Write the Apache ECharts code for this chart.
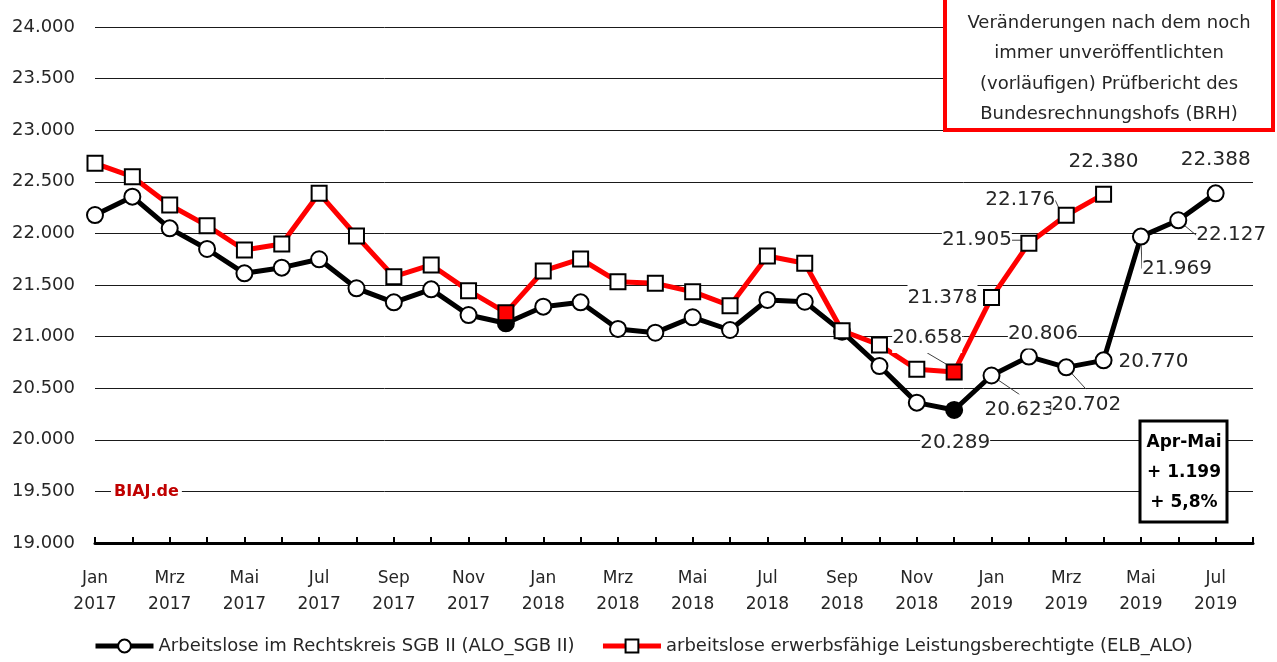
<!DOCTYPE html>
<html>
<head>
<meta charset="utf-8">
<script src="https://cdn.jsdelivr.net/npm/echarts@6/dist/echarts.min.js"></script>
<style>
  html, body { margin: 0; padding: 0; background: #fff; }
  #chart { width: 1277px; height: 662px; }
</style>
</head>
<body>
<div id="chart"></div>
<script>
// Monate Jan 2017 - Aug 2019 (Aug 2019 nur als Achsenende)
const categories = [
  'Jan 2017', 'Feb 2017', 'Mrz 2017', 'Apr 2017', 'Mai 2017', 'Jun 2017', 'Jul 2017', 'Aug 2017', 'Sep 2017', 'Okt 2017', 'Nov 2017', 'Dez 2017',
  'Jan 2018', 'Feb 2018', 'Mrz 2018', 'Apr 2018', 'Mai 2018', 'Jun 2018', 'Jul 2018', 'Aug 2018', 'Sep 2018', 'Okt 2018', 'Nov 2018', 'Dez 2018',
  'Jan 2019', 'Feb 2019', 'Mrz 2019', 'Apr 2019', 'Mai 2019', 'Jun 2019', 'Jul 2019', 'Aug 2019'
]

// Arbeitslose im Rechtskreis SGB II (ALO_SGB II)
const aloSgb2 = [
  22178, 22356, 22049, 21849, 21613, 21668, 21749, 21468, 21332, 21458, 21209, 21129,
  21290, 21332, 21074, 21038, 21187, 21064, 21355, 21338, 21048, 20715, 20360, 20289,
  20623, 20806, 20702, 20770, 21969, 22127, 22388
]

// arbeitslose erwerbsfaehige Leistungsberechtigte (ELB_ALO)
const elbAlo = [
  22679, 22550, 22275, 22075, 21839, 21897, 22388, 21975, 21581, 21694, 21445, 21232,
  21636, 21752, 21532, 21516, 21435, 21300, 21781, 21710, 21057, 20919, 20683, 20658,
  21378, 21905, 22176, 22380
]

const yTicks = [19000, 19500, 20000, 20500, 21000, 21500, 22000, 22500, 23000, 23500, 24000]

// Dezember-Werte gefuellt
const filledIdx = [11, 23]

// Beschriftung: dataIndex -> [dx, dy, Fuehrungslinie]
const aloLabels = {
  23: [1, 33, false],
  24: [28, 34, true],
  25: [14, -23, false],
  26: [20, 37, true],
  27: [50, 1, false],
  28: [36, 32, true],
  29: [53, 15, true],
  30: [0, -34, false]
}
const elbLabels = {
  23: [-27, -34, true],
  24: [-49, 0, false],
  25: [-52, -3, true],
  26: [-46, -15, true],
  27: [0, -32, false]
}

const fmt = (v) => {
  const t = Math.floor(v / 1000)
  const r = String(Math.round(v % 1000)).padStart(3, '0')
  return t + '.' + r
}

const buildData = (values, labels, fill) => {
  return values.map((v, i) => {
    const item = { value: v }
    if (labels[i]) {
      item.label = { show: true }
      item.labelLine = { show: labels[i][2] }
    }
    if (filledIdx.indexOf(i) >= 0) {
      item.itemStyle = { color: fill }
    }
    return item
  })
}

const labelStyle = {
  show: false,
  position: 'inside',
  formatter: (p) => fmt(p.value),
  fontFamily: 'DejaVu Sans',
  fontSize: 20,
  color: '#262626',
  backgroundColor: '#fff',
  padding: [5, 0]
}

const chart = echarts.init(document.getElementById('chart'))

const option = {
  animation: false,
  backgroundColor: '#fff',
  grid: { left: 95, right: 24, top: 27, bottom: 119 },
  legend: {
    bottom: 2,
    left: 88,
    itemWidth: 58,
    itemHeight: 16,
    itemGap: 26,
    lineStyle: { width: 5 },
    textStyle: { fontFamily: 'DejaVu Sans', fontSize: 18, color: '#262626' },
    data: ['Arbeitslose im Rechtskreis SGB II (ALO_SGB II)', 'arbeitslose erwerbsfähige Leistungsberechtigte (ELB_ALO)']
  },
  xAxis: {
    type: 'category',
    data: categories,
    boundaryGap: false,
    axisLine: { lineStyle: { color: '#000', width: 3 } },
    axisTick: { inside: true, length: 6, interval: 0, lineStyle: { color: '#000', width: 2 } },
    axisLabel: {
      interval: 1,
      margin: 23,
      lineHeight: 26,
      fontFamily: 'DejaVu Sans',
      fontSize: 17,
      color: '#262626',
      formatter: (v) => v.replace(' ', '\n')
    },
    splitLine: { show: false }
  },
  yAxis: {
    type: 'value',
    min: yTicks[0],
    max: yTicks[yTicks.length - 1],
    interval: 500,
    axisLine: { show: false },
    axisTick: { show: false },
    axisLabel: {
      margin: 20,
      fontFamily: 'DejaVu Sans',
      fontSize: 18,
      color: '#262626',
      formatter: (v) => fmt(v)
    },
    splitLine: { lineStyle: { color: '#1a1a1a', width: 1 } }
  },
  series: [
    {
      name: 'Arbeitslose im Rechtskreis SGB II (ALO_SGB II)',
      type: 'line',
      data: buildData(aloSgb2, aloLabels, '#000'),
      symbol: 'circle',
      symbolSize: 16,
      lineStyle: { color: '#000', width: 5 },
      itemStyle: { color: '#fff', borderColor: '#000', borderWidth: 2 },
      label: labelStyle,
      labelLine: { show: false, lineStyle: { color: '#404040', width: 1 } },
      labelLayout: (p) => {
        const o = aloLabels[p.dataIndex]
        return o ? { dx: o[0], dy: o[1] } : {}
      },
      z: 3
    },
    {
      name: 'arbeitslose erwerbsfähige Leistungsberechtigte (ELB_ALO)',
      type: 'line',
      data: buildData(elbAlo, elbLabels, '#ff0000'),
      symbol: 'rect',
      symbolSize: 15,
      lineStyle: { color: '#ff0000', width: 5 },
      itemStyle: { color: '#fff', borderColor: '#000', borderWidth: 2 },
      label: labelStyle,
      labelLine: { show: false, lineStyle: { color: '#404040', width: 1 } },
      labelLayout: (p) => {
        const o = elbLabels[p.dataIndex]
        return o ? { dx: o[0], dy: o[1] } : {}
      },
      z: 4
    }
  ],
  graphic: [
    {
      type: 'rect',
      shape: { x: 945, y: -4, width: 328, height: 134 },
      style: { fill: '#fff', stroke: '#ff0000', lineWidth: 4 },
      z: 10
    },
    {
      type: 'text',
      x: 1109,
      y: 8,
      style: {
        text: 'Veränderungen nach dem noch\nimmer unveröffentlichten\n(vorläufigen) Prüfbericht des\nBundesrechnungshofs (BRH)',
        align: 'center',
        lineHeight: 30.5,
        fontFamily: 'DejaVu Sans',
        fontSize: 18,
        fill: '#262626'
      },
      z: 11
    },
    {
      type: 'rect',
      shape: { x: 1140, y: 421, width: 87, height: 101 },
      style: { fill: '#fff', stroke: '#000', lineWidth: 3 },
      z: 10
    },
    {
      type: 'text',
      x: 1184,
      y: 428,
      style: {
        text: 'Apr-Mai\n+ 1.199\n+ 5,8%',
        align: 'center',
        lineHeight: 30,
        fontFamily: 'DejaVu Sans',
        fontWeight: 'bold',
        fontSize: 17,
        fill: '#000'
      },
      z: 11
    },
    {
      type: 'text',
      x: 111,
      y: 492,
      style: {
        text: 'BIAJ.de',
        verticalAlign: 'middle',
        fontFamily: 'DejaVu Sans',
        fontWeight: 'bold',
        fontSize: 16,
        fill: '#c00000',
        backgroundColor: '#fff',
        padding: [2, 3]
      },
      z: 11
    }
  ]
}

chart.setOption(option)
window.addEventListener('resize', () => {
  chart.resize()
})
</script>
</body>
</html>
